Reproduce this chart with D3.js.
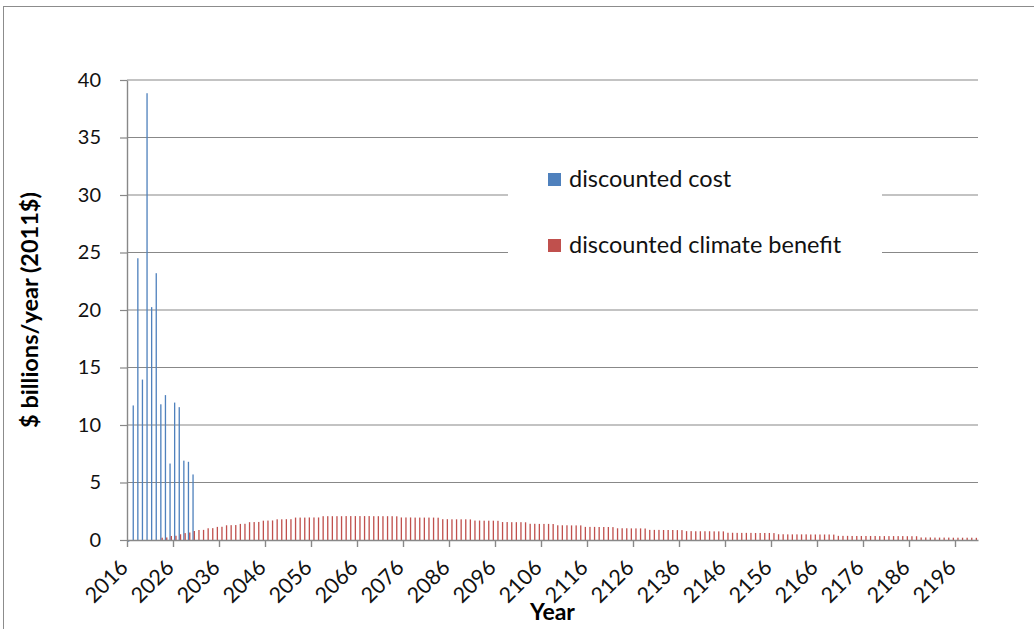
<!DOCTYPE html>
<html>
<head>
<meta charset="utf-8">
<script src="https://cdn.jsdelivr.net/npm/d3@7"></script>
<style>
  html, body { margin: 0; padding: 0; background: #fff; }
  svg { display: block; font-family: Lato, "Open Sans", sans-serif; }
</style>
</head>
<body>
<svg id="chart" width="1034" height="629"></svg>
<script>
// Annual discounted cost vs. discounted climate benefit, $ billions (2011$)
const years = d3.range(2016, 2201);

const discountedCost = [
  -0.15, 11.7, 24.5, 13.95, 38.85, 20.25, 23.2, 11.8, 12.6, 6.65,
  11.95, 11.55, 6.9, 6.8, 5.7
];

const discountedBenefit = [
  0, 0, 0, 0, 0, 0, 0, 0.2, 0.22, 0.35,
  0.37, 0.5, 0.6, 0.65, 0.78, 0.87, 0.88, 1.02, 1.03, 1.14,
  1.15, 1.28, 1.29, 1.3, 1.4, 1.41, 1.55, 1.56, 1.57, 1.68,
  1.69, 1.7, 1.8, 1.8, 1.81, 1.81, 1.95, 1.95, 1.95, 1.96,
  1.96, 1.96, 2.07, 2.07, 2.07, 2.07, 2.07, 2.08, 2.08, 2.08,
  2.08, 2.08, 2.08, 2.07, 2.07, 2.07, 2.07, 2.07, 2.06, 1.96,
  1.96, 1.96, 1.95, 1.95, 1.95, 1.95, 1.95, 1.94, 1.81, 1.81,
  1.8, 1.8, 1.8, 1.8, 1.79, 1.69, 1.69, 1.68, 1.68, 1.68,
  1.67, 1.56, 1.56, 1.55, 1.55, 1.55, 1.54, 1.41, 1.41, 1.4,
  1.4, 1.4, 1.39, 1.28, 1.28, 1.28, 1.27, 1.27, 1.27, 1.14,
  1.14, 1.14, 1.13, 1.13, 1.13, 1.12, 1.02, 1.02, 1.02, 1.01,
  1.01, 1.01, 1.0, 0.88, 0.88, 0.88, 0.87, 0.87, 0.87, 0.86,
  0.86, 0.77, 0.77, 0.76, 0.76, 0.76, 0.76, 0.75, 0.75, 0.75,
  0.63, 0.63, 0.62, 0.62, 0.62, 0.62, 0.61, 0.61, 0.61, 0.61,
  0.6, 0.5, 0.5, 0.49, 0.49, 0.49, 0.49, 0.49, 0.48, 0.48,
  0.48, 0.48, 0.48, 0.47, 0.36, 0.36, 0.36, 0.35, 0.35, 0.35,
  0.35, 0.35, 0.35, 0.34, 0.34, 0.34, 0.34, 0.34, 0.34, 0.33,
  0.33, 0.33, 0.22, 0.22, 0.22, 0.21, 0.21, 0.21, 0.21, 0.2,
  0.2, 0.2, 0.2, 0.2, 0.19
];

const yTicks = [0, 5, 10, 15, 20, 25, 30, 35, 40];
const xLabelYears = d3.range(2016, 2201, 10);

const seriesNames = ["discounted cost", "discounted climate benefit"];
const seriesColors = ["#4F81BD", "#C0504D"];
const yAxisTitle = "$ billions/year (2011$)";
const xAxisTitle = "Year";

const rows = years.map((yr, i) => ({
  year: yr,
  cost: i < discountedCost.length ? discountedCost[i] : 0,
  benefit: discountedBenefit[i]
}));

const svg = d3.select("#chart");
const plotLeft = 127, plotRight = 978, plotTop = 80, plotBottom = 540;
const gridColor = "#888888";

// outer frame
svg.append("rect")
  .attr("x", 3.5).attr("y", 6.5)
  .attr("width", 1100).attr("height", 700)
  .attr("fill", "#fff").attr("stroke", "#8c8c8c").attr("stroke-width", 1);

const x = d3.scaleBand().domain(years).range([plotLeft, plotRight])
  .paddingInner(0.43).paddingOuter(0.215);
const xSub = d3.scaleBand().domain(["cost", "benefit"]).range([0, x.bandwidth()]);
const xEdge = d3.scaleLinear().domain([2016, 2201]).range([plotLeft, plotRight]);
const y = d3.scaleLinear().domain([0, 40]).range([plotBottom, plotTop]);

// horizontal gridlines
svg.append("g").selectAll("line")
  .data(yTicks.filter(d => d > 0))
  .join("line")
  .attr("x1", plotLeft).attr("x2", plotRight)
  .attr("y1", d => y(d)).attr("y2", d => y(d))
  .attr("stroke", gridColor).attr("stroke-width", 1.2);

// legend (white panel breaks the gridlines behind it)
const legend = svg.append("g");
legend.append("rect")
  .attr("x", 508).attr("y", 148).attr("width", 374).attr("height", 140)
  .attr("fill", "#fff");
const legendItems = [
  { name: seriesNames[0], color: seriesColors[0], y: 173 },
  { name: seriesNames[1], color: seriesColors[1], y: 239 }
];
legend.selectAll("rect.key").data(legendItems).join("rect")
  .attr("class", "key")
  .attr("x", 548).attr("y", d => d.y).attr("width", 13).attr("height", 13)
  .attr("fill", d => d.color);
legend.selectAll("text").data(legendItems).join("text")
  .attr("x", 569).attr("y", d => d.y + 14)
  .attr("font-size", 23.5).attr("fill", "#111")
  .text(d => d.name);

// bars
const bars = svg.append("g");
["cost", "benefit"].forEach((key, k) => {
  bars.selectAll("rect." + key)
    .data(rows.filter(r => r[key] !== 0))
    .join("rect")
    .attr("class", key)
    .attr("x", d => x(d.year) + xSub(key))
    .attr("width", xSub.bandwidth())
    .attr("y", d => y(Math.max(0, d[key])))
    .attr("height", d => Math.abs(y(d[key]) - y(0)))
    .attr("fill", seriesColors[k]);
});

// y axis
const yAxis = svg.append("g")
  .attr("transform", `translate(${plotLeft},0)`)
  .call(d3.axisLeft(y).tickValues(yTicks).tickSize(7).tickSizeOuter(0).tickPadding(19));
yAxis.select(".domain").attr("stroke", gridColor).attr("stroke-width", 1.4);
yAxis.selectAll(".tick line").attr("stroke", gridColor).attr("stroke-width", 1.2);
yAxis.selectAll(".tick text")
  .attr("font-family", "Lato, sans-serif").attr("font-size", 20).attr("fill", "#111");

// x axis: ticks on category boundaries every 10 years
const xAxis = svg.append("g")
  .attr("transform", `translate(0,${plotBottom})`)
  .call(d3.axisBottom(xEdge).tickValues(xLabelYears).tickSize(7).tickSizeOuter(0).tickFormat(""));
xAxis.select(".domain").attr("stroke", gridColor).attr("stroke-width", 1.6);
xAxis.selectAll(".tick line").attr("stroke", gridColor).attr("stroke-width", 1.4);

// rotated category labels
svg.append("g").selectAll("text")
  .data(xLabelYears)
  .join("text")
  .attr("transform", d => `translate(${x(d) + x.bandwidth() / 2},${plotBottom + 29}) rotate(-45)`)
  .attr("text-anchor", "end")
  .attr("font-size", 21.5).attr("fill", "#111")
  .text(d => d);

// axis titles
svg.append("text")
  .attr("transform", "translate(38,310) rotate(-90)")
  .attr("text-anchor", "middle")
  .attr("font-size", 23.5).attr("font-weight", "bold")
  .text(yAxisTitle);

svg.append("text")
  .attr("x", (plotLeft + plotRight) / 2).attr("y", 620)
  .attr("text-anchor", "middle")
  .attr("font-size", 23).attr("font-weight", "bold")
  .text(xAxisTitle);
</script>
</body>
</html>
